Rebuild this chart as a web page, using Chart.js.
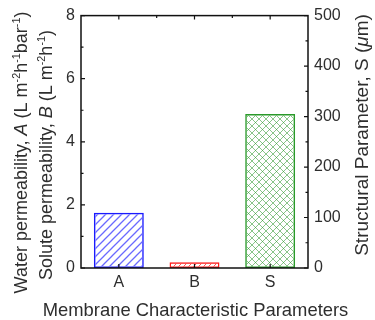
<!DOCTYPE html>
<html>
<head>
<meta charset="utf-8">
<script src="https://cdn.jsdelivr.net/npm/chart.js@4/dist/chart.umd.min.js"></script>
<style>
html, body { margin: 0; padding: 0; background: #fff; }
#wrap { width: 375px; height: 320px; }
</style>
</head>
<body>
<div id="wrap"><canvas id="graficoBarras"></canvas></div>
<script>
const categorias = ['A', 'B', 'S'];
const valoresAB = [1.75, 0.18, null];
const valoresS = [null, null, 305];
const ticksEsquerda = [0, 2, 4, 6, 8];
const menoresEsquerda = [1, 3, 5, 7];
const ticksDireita = [0, 100, 200, 300, 400, 500];
const menoresDireita = [50, 150, 250, 350, 450];

// titulos com partes em italico (i) e sobrescritas (s)
const tituloX = [{ t: 'Membrane Characteristic Parameters' }];
const tituloA = [{ t: 'Water permeability, ' }, { t: 'A', i: true }, { t: ' (L m' }, { t: '-2', s: true }, { t: 'h' }, { t: '-1', s: true }, { t: 'bar' }, { t: '-1', s: true }, { t: ')' }];
const tituloB = [{ t: 'Solute permeability, ' }, { t: 'B', i: true }, { t: ' (L m' }, { t: '-2', s: true }, { t: 'h' }, { t: '-1', s: true }, { t: ')' }];
const tituloS = [{ t: 'Structural Parameter, S (' }, { t: '\u03BC', i: true }, { t: 'm)' }];

const fonte = "'Liberation Sans', Arial, sans-serif";
const corTexto = '#2e2e2e';

function hachura(ctx, cor, passo, cruzada, espessura) {
    const c = document.createElement('canvas');
    c.width = passo;
    c.height = passo;
    const g = c.getContext('2d');
    g.strokeStyle = cor;
    g.lineWidth = espessura || 1;
    g.beginPath();
    g.moveTo(0, passo); g.lineTo(passo, 0);
    g.moveTo(-1, 1); g.lineTo(1, -1);
    g.moveTo(passo - 1, passo + 1); g.lineTo(passo + 1, passo - 1);
    if (cruzada) {
        g.moveTo(0, 0); g.lineTo(passo, passo);
        g.moveTo(passo - 1, -1); g.lineTo(passo + 1, 1);
        g.moveTo(-1, passo - 1); g.lineTo(1, passo + 1);
    }
    g.stroke();
    return ctx.createPattern(c, 'repeat');
}

// escreve um titulo centrado em (x, y) na linha de base, com rotacao opcional
function textoMisto(ctx, partes, tamanho, x, y, rotacao) {
    const fontes = partes.map(p => (p.i ? 'italic ' : '') + (p.s ? tamanho * 0.6 : tamanho) + 'px ' + fonte);
    const larguras = partes.map((p, k) => { ctx.font = fontes[k]; return ctx.measureText(p.t).width; });
    const total = larguras.reduce((a, b) => a + b, 0);
    ctx.save();
    ctx.translate(x, y);
    ctx.rotate(rotacao || 0);
    ctx.fillStyle = corTexto;
    ctx.textAlign = 'left';
    ctx.textBaseline = 'alphabetic';
    let px = -total / 2;
    partes.forEach((p, k) => {
        ctx.font = fontes[k];
        ctx.fillText(p.t, px, p.s ? -tamanho * 0.38 : 0);
        px += larguras[k];
    });
    ctx.restore();
}

// moldura, marcas para dentro e titulos dos eixos
const moldura = {
    id: 'moldura',
    afterDatasetsDraw(chart) {
        const { ctx, chartArea: a, scales } = chart;
        ctx.save();
        ctx.strokeStyle = '#111';
        ctx.lineWidth = 1.5;
        ctx.strokeRect(a.left, a.top, a.right - a.left, a.bottom - a.top);
        ctx.lineWidth = 1.2;
        ctx.beginPath();
        ticksEsquerda.forEach(v => { const y = scales.y.getPixelForValue(v); ctx.moveTo(a.left, y); ctx.lineTo(a.left + 4, y); });
        menoresEsquerda.forEach(v => { const y = scales.y.getPixelForValue(v); ctx.moveTo(a.left, y); ctx.lineTo(a.left + 2.5, y); });
        ticksDireita.forEach(v => { const y = scales.y1.getPixelForValue(v); ctx.moveTo(a.right, y); ctx.lineTo(a.right - 4, y); });
        menoresDireita.forEach(v => { const y = scales.y1.getPixelForValue(v); ctx.moveTo(a.right, y); ctx.lineTo(a.right - 2.5, y); });
        categorias.forEach((c, i) => {
            const x = scales.x.getPixelForValue(i);
            ctx.moveTo(x, a.bottom); ctx.lineTo(x, a.bottom - 4);
            ctx.moveTo(x, a.top); ctx.lineTo(x, a.top + 4);
            if (i < categorias.length - 1) {
                const xm = scales.x.getPixelForValue(i + 0.5);
                ctx.moveTo(xm, a.top); ctx.lineTo(xm, a.top + 2.5);
            }
        });
        ctx.stroke();
        ctx.restore();

        textoMisto(ctx, tituloX, 18.4, 195.5, 316, 0);
        textoMisto(ctx, tituloA, 18, 26.5, 152.5, -Math.PI / 2);
        textoMisto(ctx, tituloB, 18, 51.5, 155, -Math.PI / 2);
        textoMisto(ctx, tituloS, 19, 368, 135, -Math.PI / 2);
    }
};

document.addEventListener('DOMContentLoaded', function() {
    const ctxBarras = document.getElementById('graficoBarras');
    const c2d = ctxBarras.getContext('2d');
    new Chart(ctxBarras, {
        type: 'bar',
        data: {
            labels: categorias,
            datasets: [
                {
                    label: 'A, B',
                    data: valoresAB,
                    yAxisID: 'y',
                    backgroundColor: [
                        hachura(c2d, '#6a6aff', 8, false, 1.3),
                        hachura(c2d, 'rgba(255,40,40,0.8)', 5, false),
                        'transparent'
                    ],
                    borderColor: ['#1a1aff', '#ff1a1a', 'transparent'],
                    borderWidth: 1.5,
                    borderSkipped: false,
                    barPercentage: 0.66,
                    categoryPercentage: 1.0,
                    grouped: false
                },
                {
                    label: 'S',
                    data: valoresS,
                    yAxisID: 'y1',
                    backgroundColor: hachura(c2d, 'rgba(40,150,40,0.55)', 7, true),
                    borderColor: '#2a9a2a',
                    borderWidth: 1.5,
                    borderSkipped: false,
                    barPercentage: 0.66,
                    categoryPercentage: 1.0,
                    grouped: false
                }
            ]
        },
        options: {
            responsive: true,
            maintainAspectRatio: false,
            animation: false,
            layout: { padding: { top: 13, right: 0, left: 0, bottom: 0 } },
            plugins: {
                legend: { display: false },
                tooltip: { enabled: false }
            },
            scales: {
                x: {
                    afterFit: s => { s.height = 52; },
                    grid: { display: false, drawTicks: false },
                    border: { display: false },
                    ticks: { color: corTexto, padding: 5, font: { family: fonte, size: 16 } }
                },
                y: {
                    min: 0,
                    max: 8,
                    afterFit: s => { s.width = 81; },
                    afterBuildTicks: s => { s.ticks = ticksEsquerda.map(v => ({ value: v })); },
                    grid: { display: false, drawTicks: false },
                    border: { display: false },
                    ticks: { color: corTexto, padding: 6, font: { family: fonte, size: 16 } }
                },
                y1: {
                    position: 'right',
                    min: 0,
                    max: 500,
                    afterFit: s => { s.width = 67; },
                    afterBuildTicks: s => { s.ticks = ticksDireita.map(v => ({ value: v })); },
                    grid: { display: false, drawTicks: false },
                    border: { display: false },
                    ticks: { color: corTexto, padding: 6, font: { family: fonte, size: 16 } }
                }
            }
        },
        plugins: [moldura]
    });
});
</script>
</body>
</html>
